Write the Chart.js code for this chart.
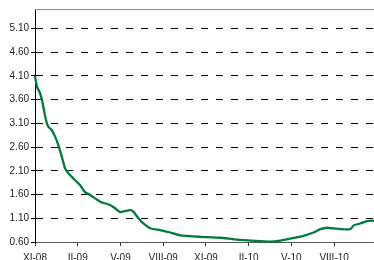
<!DOCTYPE html>
<html>
<head>
<meta charset="utf-8">
<script src="https://cdn.jsdelivr.net/npm/chart.js@4/dist/chart.umd.min.js"></script>
<style>
  html, body { margin: 0; padding: 0; background: #fff; overflow: hidden; }
  #wrap { width: 374px; height: 260px; }
</style>
</head>
<body>
<div id="wrap"><canvas id="chart1"></canvas></div>
<script>
// months since XI-08
var months = [0, 0.14, 0.35, 0.49, 0.63, 0.77, 0.93, 1.17, 1.41, 1.64, 1.88, 2.11, 2.34, 2.69, 3.16, 3.51,
    3.87, 4.57, 5.27, 5.62, 5.97, 6.32, 6.68, 6.91, 7.26, 7.61, 8.08, 8.78, 9.49, 10.19, 11.6, 13.0,
    14.17, 15.81, 16.51, 17.22, 17.92, 18.85, 19.56, 20.03, 20.5, 21.2, 22.14, 22.37, 22.84, 23.31, 23.8];
var values = [4.10, 3.87, 3.74, 3.59, 3.38, 3.17, 3.03, 2.96, 2.82, 2.64, 2.40, 2.15, 2.05, 1.94, 1.80, 1.65,
    1.59, 1.45, 1.38, 1.31, 1.23, 1.25, 1.27, 1.24, 1.10, 0.99, 0.89, 0.85, 0.80, 0.74, 0.71, 0.69,
    0.65, 0.62, 0.61, 0.63, 0.67, 0.73, 0.80, 0.87, 0.90, 0.88, 0.87, 0.95, 0.99, 1.04, 1.05];
var xTickLabels = ['XI-08', 'II-09', 'V-09', 'VIII-09', 'XI-09', 'II-10', 'V-10', 'VIII-10'];
var yTickValues = [0.6, 1.1, 1.6, 2.1, 2.6, 3.1, 3.6, 4.1, 4.6, 5.1];

function drawChart() {
    var ctx = document.getElementById('chart1').getContext('2d');
    var points = months.map(function (m, i) {
        return { x: m, y: values[i] };
    });

    var topFrame = {
        id: 'topFrame',
        afterDraw: function (chart) {
            var a = chart.chartArea;
            var c = chart.ctx;
            c.save();
            c.strokeStyle = '#8c8c8c';
            c.lineWidth = 1;
            c.beginPath();
            c.moveTo(a.left, a.top + 0.5);
            c.lineTo(a.right, a.top + 0.5);
            c.stroke();
            c.restore();
        }
    };

    var config = {
        type: 'line',
        data: {
            datasets: [{
                data: points,
                borderColor: '#007a3d',
                borderWidth: 2.3,
                pointRadius: 0,
                fill: false,
                tension: 0.15,
                clip: 3
            }]
        },
        options: {
            responsive: true,
            maintainAspectRatio: false,
            animation: false,
            layout: { padding: { top: 9, right: 0, left: 0, bottom: 0 } },
            plugins: { legend: { display: false }, tooltip: { enabled: false } },
            scales: {
                x: {
                    type: 'linear',
                    min: 0,
                    max: 23.8,
                    afterBuildTicks: function (scale) {
                        scale.ticks = xTickLabels.map(function (l, i) { return { value: i * 3 }; });
                    },
                    afterFit: function (scale) { scale.height = 18; },
                    ticks: {
                        autoSkip: false,
                        maxRotation: 0,
                        padding: 6,
                        color: '#222',
                        font: { family: 'Liberation Sans, Arial, sans-serif', size: 10 },
                        callback: function (v) { return xTickLabels[Math.round(v / 3)]; }
                    },
                    grid: { drawOnChartArea: false, drawTicks: true, tickLength: 4, color: '#333' },
                    border: { color: '#555', width: 1 }
                },
                y: {
                    min: 0.6,
                    max: 5.51,
                    afterBuildTicks: function (scale) {
                        scale.ticks = yTickValues.map(function (v) { return { value: v }; });
                    },
                    afterFit: function (scale) { scale.width = 35; },
                    ticks: {
                        padding: 2,
                        color: '#222',
                        font: { family: 'Liberation Sans, Arial, sans-serif', size: 10 },
                        callback: function (v) { return v.toFixed(2); }
                    },
                    grid: {
                        color: '#000',
                        lineWidth: 1,
                        tickLength: 4,
                        tickColor: '#000'
                    },
                    border: { color: '#000', width: 1, dash: [7, 8] }
                }
            }
        },
        plugins: [topFrame]
    };
    new Chart(ctx, config);
}
drawChart();
</script>
</body>
</html>
